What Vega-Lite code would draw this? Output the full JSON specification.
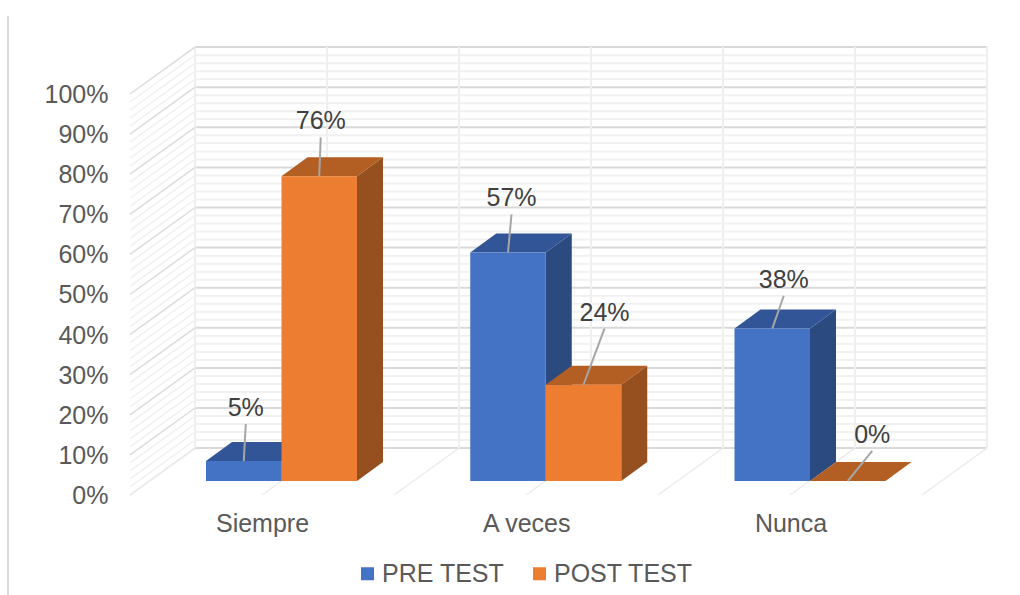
{"$schema":"https://vega.github.io/schema/vega-lite/v6.json","width":1020,"height":595,"padding":0,"autosize":{"type":"none"},"background":"white","config":{"view":{"stroke":null},"font":"Liberation Sans"},
"datasets":{"bars":[{"categoria":"Siempre","serie":"PRE TEST","valor":5},{"categoria":"Siempre","serie":"POST TEST","valor":76},{"categoria":"A veces","serie":"PRE TEST","valor":57},{"categoria":"A veces","serie":"POST TEST","valor":24},{"categoria":"Nunca","serie":"PRE TEST","valor":38},{"categoria":"Nunca","serie":"POST TEST","valor":0}],
"pct":[{"pct":0},{"pct":2},{"pct":4},{"pct":6},{"pct":8},{"pct":10},{"pct":12},{"pct":14},{"pct":16},{"pct":18},{"pct":20},{"pct":22},{"pct":24},{"pct":26},{"pct":28},{"pct":30},{"pct":32},{"pct":34},{"pct":36},{"pct":38},{"pct":40},{"pct":42},{"pct":44},{"pct":46},{"pct":48},{"pct":50},{"pct":52},{"pct":54},{"pct":56},{"pct":58},{"pct":60},{"pct":62},{"pct":64},{"pct":66},{"pct":68},{"pct":70},{"pct":72},{"pct":74},{"pct":76},{"pct":78},{"pct":80},{"pct":82},{"pct":84},{"pct":86},{"pct":88},{"pct":90},{"pct":92},{"pct":94},{"pct":96},{"pct":98},{"pct":100}],
"div":[{"k":0},{"k":1},{"k":2},{"k":3},{"k":4},{"k":5},{"k":6}]},
"encoding":{"x":{"field":"X","type":"quantitative","stack":null,"title":null,"scale":{"domain":[-1.06528,2.7947],"nice":false,"zero":false},"axis":{"values":[0,1,2],"labelExpr":"['Siempre','A veces','Nunca'][datum.value]","orient":"bottom","offset":-84,"labelOffset":-19.5,"labelPadding":0,"domain":false,"ticks":false,"grid":false,"labelFontSize":25,"labelColor":"#595959","labelBound":false,"labelFlush":false,"labelOverlap":false,"labelFont":"Liberation Sans"}},
"y":{"field":"Y","type":"quantitative","stack":null,"title":null,"scale":{"domain":[-28.43,119.95],"nice":false,"zero":false},"axis":{"values":[0,10,20,30,40,50,60,70,80,90,100],"labelExpr":"datum.value+'%'","orient":"left","offset":-108,"labelOffset":14.5,"labelPadding":0,"domain":false,"ticks":false,"grid":false,"labelFontSize":25,"labelColor":"#595959","labelBound":false,"labelFlush":false,"labelOverlap":false,"labelFont":"Liberation Sans"}}},
"layer":[
{"data":{"name":"pct"},"transform":[{"calculate":"-0.3273","as":"X"},{"calculate":"2.670","as":"X2"},{"calculate":"datum.pct+8.2","as":"Y"},{"calculate":"datum.pct+8.2","as":"Y2"}],"mark":{"type":"rule"},"encoding":{"x2":{"field":"X2"},"y2":{"field":"Y2"},"stroke":{"condition":{"test":"datum.pct%10==0","value":"#d9d9d9"},"value":"#f1f1f1"},"strokeWidth":{"condition":{"test":"datum.pct%10==0","value":2},"value":2}}},
{"data":{"name":"div"},"transform":[{"calculate":"-0.3273+datum.k*0.4995","as":"X"},{"calculate":"datum.X","as":"X2"},{"calculate":"8.2","as":"Y"},{"calculate":"108.2","as":"Y2"}],"mark":{"type":"rule","stroke":"#efefef","strokeWidth":2},"encoding":{"x2":{"field":"X2"},"y2":{"field":"Y2"}}},
{"data":{"name":"pct"},"transform":[{"calculate":"-0.5733","as":"X"},{"calculate":"-0.3273","as":"X2"},{"calculate":"datum.pct-3.49","as":"Y"},{"calculate":"datum.pct+8.2","as":"Y2"}],"mark":{"type":"rule"},"encoding":{"x2":{"field":"X2"},"y2":{"field":"Y2"},"stroke":{"condition":{"test":"datum.pct%10==0","value":"#dcdcdc"},"value":"#f1f1f1"},"strokeWidth":{"condition":{"test":"datum.pct%10==0","value":1.5},"value":1.5}}},
{"data":{"name":"div"},"transform":[{"calculate":"-0.5733+datum.k*0.4995","as":"X"},{"calculate":"datum.X+0.246","as":"X2"},{"calculate":"-3.49","as":"Y"},{"calculate":"8.2","as":"Y2"}],"mark":{"type":"rule","stroke":"#ececec","strokeWidth":1.5},"encoding":{"x2":{"field":"X2"},"y2":{"field":"Y2"}}},
{"data":{"values":[{"borde":"izquierdo"}]},"transform":[{"calculate":"-1.035","as":"X"},{"calculate":"-1.035","as":"X2"},{"calculate":"116","as":"Y"},{"calculate":"-28.43","as":"Y2"}],"mark":{"type":"rule","stroke":"#d9d9d9","strokeWidth":2},"encoding":{"x2":{"field":"X2"},"y2":{"field":"Y2"}}},

{"data":{"name":"bars"},"transform":[{"filter":"datum.serie=='PRE TEST'"},{"calculate":"indexof(['Siempre','A veces','Nunca'],datum.categoria)-0.2857","as":"L"},{"calculate":"[0,1]","as":"t"},{"flatten":["t"]},{"calculate":"datum.L+0.2857+datum.t*0.0984","as":"X"},{"calculate":"datum.valor+datum.t*4.74","as":"Y"},{"calculate":"datum.t*4.74","as":"Y2"}],"mark":{"type":"area","orient":"vertical","color":"#2a4a80"},"encoding":{"y2":{"field":"Y2"},"detail":{"field":"categoria"}}},
{"data":{"name":"bars"},"transform":[{"filter":"datum.serie=='PRE TEST'"},{"calculate":"indexof(['Siempre','A veces','Nunca'],datum.categoria)-0.2857","as":"L"},{"calculate":"[0,1]","as":"t"},{"flatten":["t"]},{"calculate":"datum.L+datum.t*0.0984","as":"X"},{"calculate":"datum.L+0.2857+datum.t*0.0984","as":"X2"},{"calculate":"datum.valor+datum.t*4.74","as":"Y"}],"mark":{"type":"area","orient":"horizontal","color":"#325597"},"encoding":{"x2":{"field":"X2"},"detail":{"field":"categoria"}}},
{"data":{"name":"bars"},"transform":[{"filter":"datum.serie=='PRE TEST'"},{"calculate":"indexof(['Siempre','A veces','Nunca'],datum.categoria)-0.2857","as":"X"},{"calculate":"datum.X+0.2857","as":"X2"},{"calculate":"datum.valor","as":"Y"},{"calculate":"0","as":"Y2"}],"mark":{"type":"rect"},"encoding":{"x2":{"field":"X2"},"y2":{"field":"Y2"},"color":{"field":"serie","type":"nominal","title":null,"scale":{"domain":["PRE TEST","POST TEST"],"range":["#4472C4","#ED7D31"]},"legend":{"orient":"none","legendX":355,"legendY":561,"direction":"horizontal","columns":2,"symbolType":"square","symbolSize":169,"symbolStrokeWidth":0,"labelFontSize":25,"labelColor":"#595959","labelFont":"Liberation Sans","labelOffset":2,"columnPadding":22}}}},

{"data":{"name":"bars"},"transform":[{"filter":"datum.serie=='POST TEST'"},{"calculate":"indexof(['Siempre','A veces','Nunca'],datum.categoria)","as":"L"},{"calculate":"[0,1]","as":"t"},{"flatten":["t"]},{"calculate":"datum.L+0.2857+datum.t*0.0984","as":"X"},{"calculate":"datum.valor+datum.t*4.74","as":"Y"},{"calculate":"datum.t*4.74","as":"Y2"}],"mark":{"type":"area","orient":"vertical","color":"#964f1e"},"encoding":{"y2":{"field":"Y2"},"detail":{"field":"categoria"}}},
{"data":{"name":"bars"},"transform":[{"filter":"datum.serie=='POST TEST'"},{"calculate":"indexof(['Siempre','A veces','Nunca'],datum.categoria)","as":"L"},{"calculate":"[0,1]","as":"t"},{"flatten":["t"]},{"calculate":"datum.L+datum.t*0.0984","as":"X"},{"calculate":"datum.L+0.2857+datum.t*0.0984","as":"X2"},{"calculate":"datum.valor+datum.t*4.74","as":"Y"}],"mark":{"type":"area","orient":"horizontal","color":"#b35e22"},"encoding":{"x2":{"field":"X2"},"detail":{"field":"categoria"}}},
{"data":{"name":"bars"},"transform":[{"filter":"datum.serie=='POST TEST'"},{"calculate":"indexof(['Siempre','A veces','Nunca'],datum.categoria)","as":"X"},{"calculate":"datum.X+0.2857","as":"X2"},{"calculate":"datum.valor","as":"Y"},{"calculate":"0","as":"Y2"}],"mark":{"type":"rect"},"encoding":{"x2":{"field":"X2"},"y2":{"field":"Y2"},"color":{"field":"serie","type":"nominal","title":null,"scale":{"domain":["PRE TEST","POST TEST"],"range":["#4472C4","#ED7D31"]}}}},

{"data":{"name":"bars"},"transform":[{"calculate":"datum.categoria+datum.serie","as":"k"},{"calculate":"indexof(['Siempre','A veces','Nunca'],datum.categoria)+(datum.serie=='PRE TEST'?-0.1428:0.1428)","as":"X"},{"calculate":"datum.X+{'SiemprePRE TEST':0.0076,'SiemprePOST TEST':0.0057,'A vecesPRE TEST':0.0132,'A vecesPOST TEST':0.0795,'NuncaPRE TEST':0.0435,'NuncaPOST TEST':0.0927}[datum.k]","as":"X2"},{"calculate":"datum.valor","as":"Y"},{"calculate":"datum.valor+{'SiemprePRE TEST':9.2,'SiemprePOST TEST':9.7,'A vecesPRE TEST':9.5,'A vecesPOST TEST':14,'NuncaPRE TEST':8.2,'NuncaPOST TEST':7.5}[datum.k]","as":"Y2"}],"mark":{"type":"rule","stroke":"#a6a6a6","strokeWidth":2},"encoding":{"x2":{"field":"X2"},"y2":{"field":"Y2"}}},
{"data":{"name":"bars"},"transform":[{"calculate":"datum.categoria+datum.serie","as":"k"},{"calculate":"indexof(['Siempre','A veces','Nunca'],datum.categoria)+(datum.serie=='PRE TEST'?-0.1428:0.1428)+{'SiemprePRE TEST':0.0076,'SiemprePOST TEST':0.0057,'A vecesPRE TEST':0.0132,'A vecesPOST TEST':0.0795,'NuncaPRE TEST':0.0435,'NuncaPOST TEST':0.0927}[datum.k]","as":"X"},{"calculate":"datum.valor+4+{'SiemprePRE TEST':9.2,'SiemprePOST TEST':9.7,'A vecesPRE TEST':9.5,'A vecesPOST TEST':14,'NuncaPRE TEST':8.2,'NuncaPOST TEST':7.5}[datum.k]","as":"Y"},{"calculate":"datum.valor+'%'","as":"etiqueta"}],"mark":{"type":"text","fontSize":25,"font":"Liberation Sans","color":"#404040","align":"center","baseline":"middle"},"encoding":{"text":{"field":"etiqueta"}}}
]}
